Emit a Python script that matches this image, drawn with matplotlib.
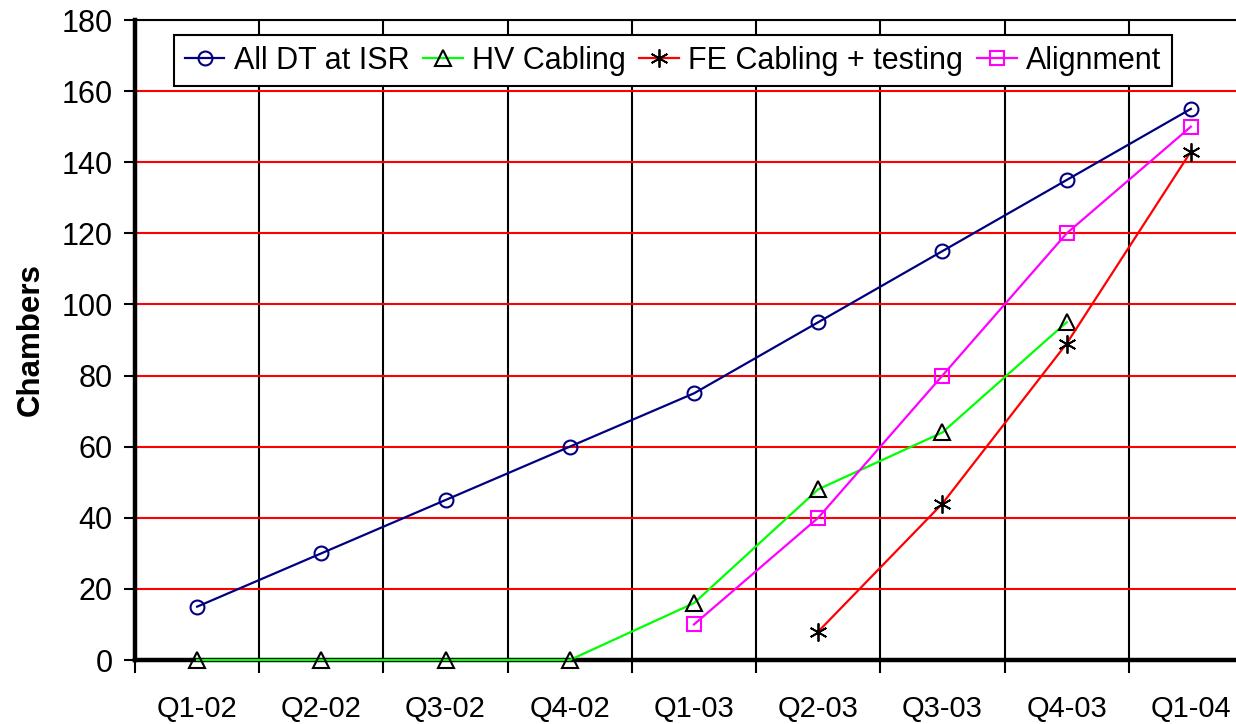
import numpy as np
import matplotlib
matplotlib.use("Agg")
import matplotlib.pyplot as plt

plt.rcParams['font.family'] = ['Liberation Sans', 'DejaVu Sans']

quarters = ["Q1-02", "Q2-02", "Q3-02", "Q4-02", "Q1-03", "Q2-03", "Q3-03", "Q4-03", "Q1-04"]
all_dt = [15, 30, 45, 60, 75, 95, 115, 135, 155]
hv_cabling = [0, 0, 0, 0, 16, 48, 64, 95, np.nan]
fe_cabling = [np.nan, np.nan, np.nan, np.nan, np.nan, 8, 44, 89, 143]
alignment = [np.nan, np.nan, np.nan, np.nan, 10, 40, 80, 120, 150]

fig = plt.figure(figsize=(12.36, 7.24), dpi=100)
ax = fig.add_axes([135 / 1236, 64 / 724, 1118 / 1236, 640 / 724])

x = np.arange(len(quarters))
common = dict(lw=1.6, ms=10, mew=1.5, zorder=5, clip_on=False)
ax.plot(x, all_dt, color='#000080', marker='o', mfc='none',
        mec='#000080', label='All DT at ISR', **common)
ax.plot(x, hv_cabling, color='#00ff00', marker='^', mfc='none',
        mec='black', label='HV Cabling', **{**common, 'ms': 11.5})
ax.plot(x, fe_cabling, color='#ff0000', marker=(6, 2, 0), mec='black',
        label='FE Cabling + testing', **{**common, 'ms': 13, 'mew': 1.3})
ax.plot(x, alignment, color='#ff00ff', marker='s', mfc='none',
        mec='#ff00ff', label='Alignment', **common)

ax.set_xlim(-0.5, len(quarters) - 0.5)
ax.set_ylim(0, 180)
ax.set_xticks(x)
ax.set_xticklabels(quarters, fontsize=21)
ax.set_xticks(np.arange(len(quarters) + 1) - 0.5, minor=True)
ax.tick_params(axis='x', which='major', length=0, pad=25)
ax.tick_params(axis='x', which='minor', length=9, width=1.5, direction='out')
ax.set_yticks(np.arange(0, 181, 20))
ax.tick_params(axis='y', labelsize=22, length=8, width=1.5, pad=8)

ax.grid(axis='x', which='minor', color='black', lw=1.5)
ax.grid(axis='y', which='major', color='#ff0000', lw=1.5)
ax.set_axisbelow(True)

for side in ['left', 'bottom']:
    ax.spines[side].set_linewidth(3.2)
ax.spines['top'].set_linewidth(1.5)
ax.spines['right'].set_visible(False)

ax.set_ylabel('Chambers', fontsize=22.5, fontweight='bold')
ax.yaxis.set_label_coords(-0.08, 0.5)

leg = ax.legend(loc='upper left', bbox_to_anchor=(174 / 1236, 1 - 35 / 724),
                bbox_transform=fig.transFigure, ncol=4, fontsize=22,
                frameon=True, fancybox=False, framealpha=1, edgecolor='black',
                borderaxespad=0, handlelength=1.3, handletextpad=0.3,
                columnspacing=0.45, borderpad=0.35)
leg.get_frame().set_linewidth(1.5)

fig.savefig('out.png', dpi=100)
